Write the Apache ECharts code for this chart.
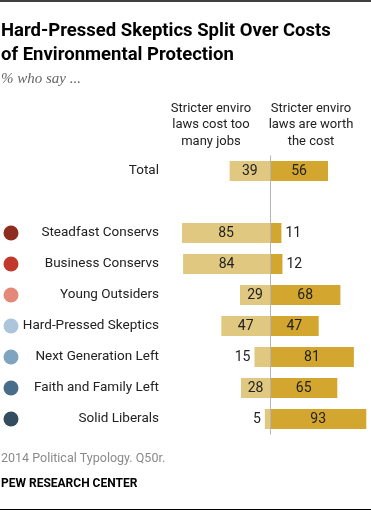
<!DOCTYPE html>
<html><head><meta charset="utf-8">
<script src="https://cdn.jsdelivr.net/npm/echarts@6/dist/echarts.min.js"></script>
<style>html,body{margin:0;padding:0;background:#fff}#c{width:371px;height:512px}</style>
</head><body><div id="c"></div>
<script>
const categories = ['Total', '', 'Steadfast Conservs', 'Business Conservs', 'Young Outsiders', 'Hard-Pressed Skeptics', 'Next Generation Left', 'Faith and Family Left', 'Solid Liberals'];
const costJobs = [39, null, 85, 84, 29, 47, 15, 28, 5];
const worthCost = [56, null, 11, 12, 68, 47, 81, 65, 93];
const seriesNames = ['Stricter enviro\nlaws cost too\nmany jobs', 'Stricter enviro\nlaws are worth\nthe cost'];
const xTicks = [-90, 96];

const dotPalette = [null, null, '#8e2c1f', '#c0392b', '#e4887a', '#adc5da', '#7fa4c0', '#476d8b', '#344c5f'];
const FONT = 'Roboto';

const chart = echarts.init(document.getElementById('c'));
const rich = { name: { width: 140.5, align: 'right', fontFamily: FONT, fontSize: 13.5, color: '#222' }, blank: { width: 15, height: 15 } };
dotPalette.forEach((c, i) => { if (c) rich['d' + i] = { width: 15, height: 15, borderRadius: 7.5, backgroundColor: c }; });

function lbl(v, side) {
  const small = v < 20;
  return { show: true, position: small ? side : 'inside', distance: 4, fontFamily: FONT, fontSize: 14, color: '#222' };
}

chart.setOption({
  animation: false,
  grid: { left: 176.85, right: 1.6, top: 155.5, height: 279 },
  xAxis: { type: 'value', min: xTicks[0], max: xTicks[1], show: false },
  yAxis: {
    type: 'category', inverse: true, data: categories,
    axisLine: { show: false }, axisTick: { show: false }, splitLine: { show: false },
    axisLabel: {
      margin: 17.85, align: 'right', rich: rich,
      formatter: (v, i) => v ? ((dotPalette[i] ? '{d' + i + '|}' : '{blank|}') + '{name|' + v + '}') : ''
    }
  },
  series: [
    {
      type: 'bar', name: seriesNames[0], stack: 's', barWidth: 20,
      itemStyle: { color: '#e0c881' },
      data: costJobs.map(v => v == null ? null : { value: -v, label: lbl(v, 'left') }),
      label: { formatter: p => Math.abs(p.value) },
      markLine: { silent: true, symbol: 'none', label: { show: false }, lineStyle: { color: '#b5b5b5', width: 1, type: 'solid' }, data: [{ xAxis: 0 }] }
    },
    {
      type: 'bar', name: seriesNames[1], stack: 's', barWidth: 20,
      itemStyle: { color: '#d3a630' },
      data: worthCost.map(v => v == null ? null : { value: v, label: lbl(v, 'right') }),
      label: { formatter: p => p.value }
    }
  ],
  graphic: [
    { type: 'line', shape: { x1: 0, y1: 1, x2: 371, y2: 1 }, style: { stroke: '#000', lineWidth: 1.5 } },
    { type: 'line', shape: { x1: 0, y1: 509.5, x2: 371, y2: 509.5 }, style: { stroke: '#000', lineWidth: 1 } },
    { type: 'text', left: 1, top: 19, style: { text: 'Hard-Pressed Skeptics Split Over Costs\nof Environmental Protection', font: 'bold 18.5px ' + FONT, fill: '#000', lineHeight: 24 } },
    { type: 'text', left: 1, top: 72, style: { text: '% who say ...', font: 'italic 15px "Liberation Serif"', fill: '#666' } },
    { type: 'text', x: 211, y: 100, style: { text: seriesNames[0], font: '13px ' + FONT, fill: '#222', align: 'center', lineHeight: 16.5 } },
    { type: 'text', x: 311, y: 100, style: { text: seriesNames[1], font: '13px ' + FONT, fill: '#222', align: 'center', lineHeight: 16.5 } },
    { type: 'text', left: 1, top: 452, style: { text: '2014 Political Typology. Q50r.', font: '12.5px ' + FONT, fill: '#8a8a8a' } },
    { type: 'text', left: 1, top: 478, style: { text: 'PEW RESEARCH CENTER', font: 'bold 12px ' + FONT, fill: '#000' } }
  ]
});
</script></body></html>
